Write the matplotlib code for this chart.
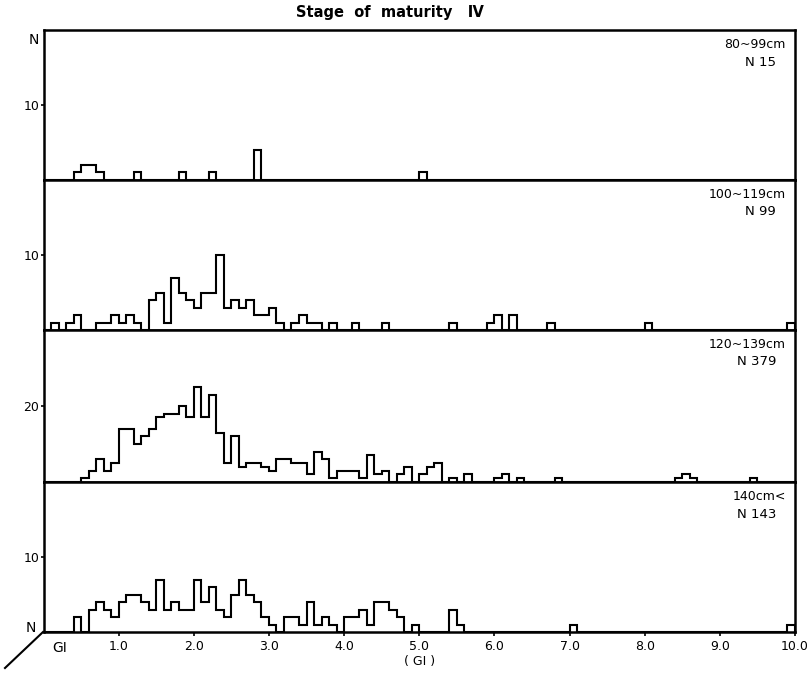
import numpy as np
import matplotlib
matplotlib.use("Agg")
import matplotlib.pyplot as plt
from matplotlib.lines import Line2D

# ---------------- data (bin start GI -> count, bin width 0.1) ----------------
p1_bins = [0.4, 0.5, 0.6, 0.7, 1.2, 1.8, 2.2, 2.8, 5.0]
p1_counts = [1, 2, 2, 1, 1, 1, 1, 4, 1]

p2_bins = [0.1, 0.3, 0.4, 0.7, 0.8, 0.9, 1.0, 1.1, 1.2, 1.4, 1.5, 1.6, 1.7, 1.8, 1.9,
           2.0, 2.1, 2.2, 2.3, 2.4, 2.5, 2.6, 2.7, 2.8, 2.9, 3.0, 3.1, 3.3, 3.4, 3.5,
           3.6, 3.8, 4.1, 4.5, 5.4, 5.9, 6.0, 6.2, 6.7, 8.0, 9.9]
p2_counts = [1, 1, 2, 1, 1, 2, 1, 2, 1, 4, 5, 1, 7, 5, 4,
             3, 5, 5, 10, 3, 4, 3, 4, 2, 2, 3, 1, 1, 2, 1,
             1, 1, 1, 1, 1, 1, 2, 2, 1, 1, 1]

p3_bins = [0.5, 0.6, 0.7, 0.8, 0.9, 1.0, 1.1, 1.2, 1.3, 1.4, 1.5, 1.6, 1.7, 1.8, 1.9,
           2.0, 2.1, 2.2, 2.3, 2.4, 2.5, 2.6, 2.7, 2.8, 2.9, 3.0, 3.1, 3.2, 3.3, 3.4,
           3.5, 3.6, 3.7, 3.8, 3.9, 4.0, 4.1, 4.2, 4.3, 4.4, 4.5, 4.7, 4.8, 5.0, 5.1,
           5.2, 5.4, 5.6, 6.0, 6.1, 6.3, 6.8, 8.4, 8.5, 8.6, 9.4]
p3_counts = [1, 3, 6, 3, 5, 14, 14, 10, 12, 14, 17, 18, 18, 20, 17,
             25, 17, 23, 13, 5, 12, 4, 5, 5, 4, 3, 6, 6, 5, 5,
             2, 8, 6, 1, 3, 3, 3, 1, 7, 2, 3, 2, 4, 2, 4,
             5, 1, 2, 1, 2, 1, 1, 1, 2, 1, 1]

p4_bins = [0.4, 0.6, 0.7, 0.8, 0.9, 1.0, 1.1, 1.2, 1.3, 1.4, 1.5, 1.6, 1.7, 1.8, 1.9,
           2.0, 2.1, 2.2, 2.3, 2.4, 2.5, 2.6, 2.7, 2.8, 2.9, 3.0, 3.2, 3.3, 3.4, 3.5,
           3.6, 3.7, 3.8, 4.0, 4.1, 4.2, 4.3, 4.4, 4.5, 4.6, 4.7, 4.9, 5.4, 5.5, 7.0, 9.9]
p4_counts = [2, 3, 4, 3, 2, 4, 5, 5, 4, 3, 7, 3, 4, 3, 3,
             7, 4, 6, 3, 2, 5, 7, 5, 4, 2, 1, 2, 2, 1, 4,
             1, 2, 1, 2, 2, 3, 1, 4, 4, 3, 2, 1, 3, 1, 1, 1]

size_labels = ["80~99cm", "100~119cm", "120~139cm", "140cm<"]
n_labels = ["N 15", "N 99", "N 379", "N 143"]
ymax = [20, 20, 40, 20]
ytick_vals = [10, 10, 20, 10]
xtick_vals = [1.0, 2.0, 3.0, 4.0, 5.0, 6.0, 7.0, 8.0, 9.0, 10.0]
xtick_labels = ["1.0", "2.0", "3.0", "4.0", "5.0", "6.0", "7.0", "8.0", "9.0", "10.0"]
title = "Stage  of  maturity   \u2163"

# ---------------- figure ----------------
W, H = 810, 677
fig = plt.figure(figsize=(W / 100, H / 100), dpi=100)
plt.rcParams['font.family'] = ['DejaVu Sans']

edges = np.round(np.arange(0, 10.0001, 0.1), 2)

def full_counts(bins, counts):
    arr = np.zeros(len(edges) - 1)
    for b, c in zip(bins, counts):
        arr[int(round(b * 10))] = c
    return arr

panels = [(p1_bins, p1_counts), (p2_bins, p2_counts), (p3_bins, p3_counts), (p4_bins, p4_counts)]
tops = [30, 180, 330, 482]
bots = [180, 330, 482, 632]
left_px, right_px = 43.5, 795

def fx(x):
    return x / W

def fy(y):
    return 1 - y / H

for i, ((b, c), t, bt) in enumerate(zip(panels, tops, bots)):
    ax = fig.add_axes([fx(left_px), fy(bt), (right_px - left_px) / W, (bt - t) / H])
    ax.stairs(full_counts(b, c), edges, color='black', lw=1.5, baseline=0)
    ax.set_xlim(0, 10)
    ax.set_ylim(0, ymax[i])
    for s in ax.spines.values():
        s.set_linewidth(1.8)
    ax.set_yticks([ytick_vals[i]])
    ax.set_yticklabels([str(ytick_vals[i])], fontsize=9)
    ax.tick_params(axis='y', direction='out', length=2, width=1.2, pad=1)
    if i < 3:
        ax.set_xticks([])
    else:
        ax.set_xticks(xtick_vals)
        ax.set_xticklabels(xtick_labels, fontsize=9)
        ax.tick_params(axis='x', direction='out', length=3, width=1.2, pad=3)
    ax.text(0.988, 1 - 15 / (bt - t), size_labels[i], transform=ax.transAxes,
            ha='right', va='center', fontsize=9)
    ax.text(0.975, 1 - 32 / (bt - t), n_labels[i], transform=ax.transAxes,
            ha='right', va='center', fontsize=9.5)

fig.text(fx(390), fy(13), title, ha='center', va='center', fontsize=10.5, fontweight='bold')
fig.text(fx(34), fy(40), "N", ha='center', va='center', fontsize=10)
fig.text(fx(31), fy(628), "N", ha='center', va='center', fontsize=10)
fig.text(fx(60), fy(648), "GI", ha='center', va='center', fontsize=10)
fig.text(fx(420), fy(662), "( GI )", ha='center', va='center', fontsize=9)
fig.add_artist(Line2D([fx(43), fx(5)], [fy(632), fy(668)], color='black', lw=1.5,
                      transform=fig.transFigure))

fig.savefig("out.png", dpi=100, facecolor='white')
